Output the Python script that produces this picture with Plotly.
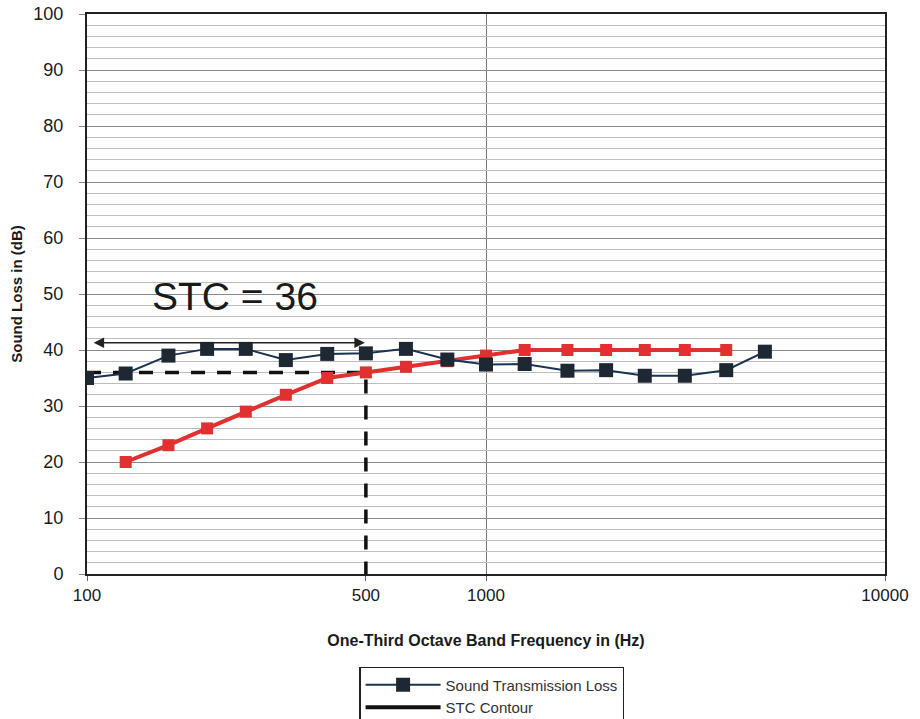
import math
import plotly.graph_objects as go

freqs = [100, 125, 160, 200, 250, 315, 400, 500, 630, 800, 1000, 1250, 1600, 2000, 2500, 3150, 4000, 5000]
stl_values = [35, 35.8, 39, 40.2, 40.2, 38.2, 39.3, 39.4, 40.2, 38.3, 37.4, 37.5, 36.3, 36.4, 35.4, 35.4, 36.4, 39.7]

contour_freqs = [125, 160, 200, 250, 315, 400, 500, 630, 800, 1000, 1250, 1600, 2000, 2500, 3150, 4000]
contour_values = [20, 23, 26, 29, 32, 35, 36, 37, 38, 39, 40, 40, 40, 40, 40, 40]

stc_rating = 36
stc_ref_freq = 500
arrow_freqs = [103, 497]
arrow_level = 41.3
label_freq = 235
label_level = 49.5

x_tickvals = [100, 500, 1000, 10000]
x_ticktext = ["100", "500", "1000", "10000"]

fig = go.Figure()

# STC reference dashed lines
fig.add_trace(go.Scatter(
    x=[freqs[0], stc_ref_freq, stc_ref_freq], y=[stc_rating, stc_rating, 0],
    mode="lines", line=dict(color="#111111", width=3.5, dash="14px,12px"),
    showlegend=False, hoverinfo="skip"))

fig.add_trace(go.Scatter(
    x=contour_freqs, y=contour_values, mode="lines+markers",
    line=dict(color="#e0302f", width=4),
    marker=dict(symbol="square", size=12, color="#e0302f"),
    showlegend=False, name="STC Contour (plot)"))

fig.add_trace(go.Scatter(
    x=freqs, y=stl_values, mode="lines+markers", name="Sound Transmission Loss",
    line=dict(color="#1b3354", width=2),
    marker=dict(symbol="square", size=14, color="#1e2833")))

fig.add_trace(go.Scatter(
    x=[None], y=[None], mode="lines", name="STC Contour",
    line=dict(color="#111111", width=4)))

# double-headed arrow
fig.add_annotation(
    x=math.log10(arrow_freqs[1]), y=arrow_level,
    ax=math.log10(arrow_freqs[0]), ay=arrow_level,
    xref="x", yref="y", axref="x", ayref="y",
    text="", showarrow=True, arrowhead=2, startarrowhead=2,
    arrowside="end+start", arrowsize=1.4, arrowwidth=1.5, arrowcolor="#222222")

fig.add_annotation(
    x=math.log10(label_freq), y=label_level, xref="x", yref="y",
    text=f"STC = {stc_rating}", showarrow=False,
    font=dict(size=39, color="#1a1a1a", family="Liberation Sans, Arial"))

fig.update_layout(
    width=920, height=719,
    margin=dict(l=87, r=35, t=14, b=145, autoexpand=False),
    paper_bgcolor="white", plot_bgcolor="white",
    font=dict(family="Liberation Sans, Arial", color="#1a1a1a"),
    showlegend=True,
    legend=dict(
        x=0.507, y=-0.166, xanchor="center", yanchor="top",
        bordercolor="#222222", borderwidth=1.5, bgcolor="white",
        font=dict(size=15, color="#333333"),
        tracegroupgap=0, itemwidth=75),
)

fig.update_xaxes(
    type="log", range=[2, 4],
    tickvals=x_tickvals, ticktext=x_ticktext,
    tickfont=dict(size=17), ticks="outside", ticklen=5, tickcolor="#666666",
    showgrid=False,
    minor=dict(tickvals=[1000], showgrid=True, gridcolor="#777777", gridwidth=1, ticks=""),
    showline=True, linecolor="#222222", linewidth=2, mirror=True,
    title=dict(text="<b>One-Third Octave Band Frequency in (Hz)</b>", font=dict(size=16), standoff=30),
    zeroline=False)

fig.update_yaxes(
    range=[0, 100], dtick=10, tickfont=dict(size=18),
    ticks="outside", ticklen=6, tickcolor="#888888", ticklabelstandoff=12,
    showgrid=True, gridcolor="#8a8a8a", gridwidth=1,
    minor=dict(dtick=2, showgrid=True, gridcolor="#bdbdbd", gridwidth=1, ticks=""),
    showline=True, linecolor="#222222", linewidth=2, mirror=True,
    title=dict(text="<b>Sound Loss in (dB)</b>", font=dict(size=15), standoff=7),
    zeroline=False)

fig.write_html("out.html")
